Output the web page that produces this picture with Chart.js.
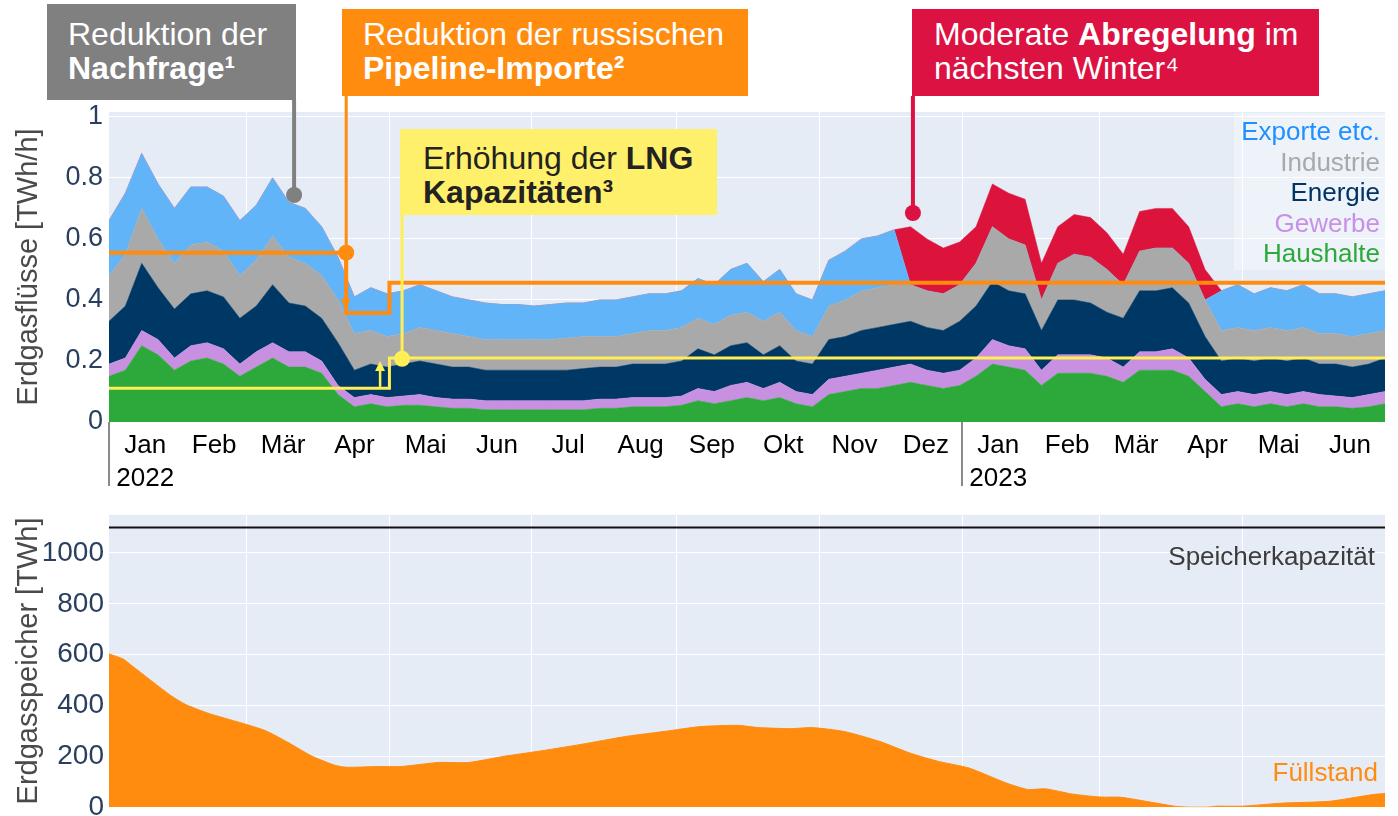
<!DOCTYPE html>
<html>
<head>
<meta charset="utf-8">
<script src="https://cdn.jsdelivr.net/npm/chart.js@4.4.1/dist/chart.umd.min.js"></script>
<style>
body { margin: 0; background: #fff; width: 1398px; height: 816px; overflow: hidden; position: relative; font-family: 'Liberation Sans', Arial, sans-serif; }
canvas { position: absolute; left: 0; }
#flow { top: 0; }
#store { top: 493px; }
.box { position: absolute; font-size: 32px; line-height: 34px; color: #fff; box-sizing: border-box; white-space: nowrap; }
.box b { font-weight: bold; }
#legend { position: absolute; left: 1234px; top: 113px; width: 151px; height: 157px; background: rgba(255,255,255,0.35); }
#legend div { text-align: right; font-size: 26px; line-height: 30.5px; padding-right: 5px; }
.note { position: absolute; font-size: 26px; line-height: 30px; text-align: right; }
</style>
</head>
<body>
<canvas id="flow" width="1398" height="500"></canvas>
<canvas id="store" width="1398" height="336"></canvas>

<div class="box" style="left:47px;top:4px;width:249px;height:96px;background:#808080;padding:13px 0 0 21px;">Reduktion der<br><b>Nachfrage¹</b></div>
<div class="box" style="left:342px;top:9px;width:406px;height:87px;background:#ff8c0f;padding:8px 0 0 21px;">Reduktion der russischen<br><b>Pipeline-Importe²</b></div>
<div class="box" style="left:400px;top:129px;width:317px;height:86px;background:#fff06b;color:#222;padding:12px 0 0 23px;">Erhöhung der <b>LNG</b><br><b>Kapazitäten³</b></div>
<div class="box" style="left:912px;top:9px;width:407px;height:87px;background:#dc1242;padding:8px 0 0 22px;">Moderate <b>Abregelung</b> im<br>nächsten Winter⁴</div>

<div id="legend" style="padding-top:3px;box-sizing:border-box;">
  <div style="color:#1e90ff">Exporte etc.</div>
  <div style="color:#a9a9a9">Industrie</div>
  <div style="color:#003366">Energie</div>
  <div style="color:#c890e6">Gewerbe</div>
  <div style="color:#2da83a">Haushalte</div>
</div>

<div class="note" style="right:23px;top:541px;color:#3c3c3c">Speicherkapazität</div>
<div class="note" style="right:20px;top:757px;color:#ff8c0f">Füllstand</div>

<script>
'use strict';

// x axis in days since 2022-01-01
var monthStarts = [0, 31, 59, 90, 120, 151, 181, 212, 243, 273, 304, 334, 365, 396, 424, 455, 485, 516, 546];
var monthLabels = [['Jan', '2022'], 'Feb', 'Mär', 'Apr', 'Mai', 'Jun', 'Jul', 'Aug', 'Sep', 'Okt', 'Nov', 'Dez',
    ['Jan', '2023'], 'Feb', 'Mär', 'Apr', 'Mai', 'Jun'];
var gridDays = [59, 120, 181, 243, 304, 365, 424, 485];
var yearStarts = [0, 365];

var flowTicks = [0, 0.2, 0.4, 0.6, 0.8, 1];
var flowTickLabels = ['0', '0.2', '0.4', '0.6', '0.8', '1'];
var storageTicks = [0, 200, 400, 600, 800, 1000];
var storageTickLabels = ['0', '200', '400', '600', '800', '1000'];

// weekly flows in TWh/h (layer thickness, bottom to top)
var haushalte = [.15, .17, .25, .22, .17, .20, .21, .19, .15, .18,
    .21, .18, .18, .16, .09, .05, .06, .05, .055, .055,
    .05, .045, .045, .04, .04, .04, .04, .04, .04, .04,
    .045, .045, .05, .05, .05, .055, .07, .06, .07, .08,
    .07, .08, .06, .05, .09, .10, .11, .11, .12, .13,
    .12, .11, .12, .15, .19, .18, .17, .12, .16, .16,
    .16, .15, .13, .17, .17, .17, .15, .10, .05, .06,
    .05, .06, .05, .06, .05, .05, .045, .05, .06];
var gewerbe = [.04, .04, .05, .05, .04, .05, .05, .05, .04, .05,
    .05, .05, .05, .04, .03, .03, .03, .03, .03, .035,
    .03, .03, .03, .03, .03, .03, .03, .03, .03, .03,
    .03, .03, .03, .03, .03, .03, .04, .04, .05, .05,
    .04, .05, .04, .04, .05, .05, .05, .06, .06, .06,
    .05, .05, .05, .06, .08, .07, .07, .05, .06, .06,
    .06, .06, .05, .06, .06, .07, .06, .04, .04, .04,
    .04, .04, .04, .04, .04, .035, .035, .04, .04];
var energie = [.14, .17, .22, .17, .16, .17, .17, .17, .15, .15,
    .19, .16, .15, .14, .14, .09, .10, .10, .105, .11,
    .11, .105, .105, .10, .10, .10, .10, .10, .10, .105,
    .105, .105, .11, .11, .11, .115, .13, .12, .13, .13,
    .11, .12, .10, .10, .13, .13, .14, .14, .14, .14,
    .14, .14, .16, .17, .19, .18, .18, .13, .18, .18,
    .17, .15, .16, .20, .20, .20, .18, .14, .11, .11,
    .11, .11, .11, .11, .10, .105, .10, .10, .11];
var industrie = [.15, .17, .18, .16, .15, .16, .16, .15, .14, .15,
    .16, .15, .14, .14, .14, .12, .11, .10, .10, .11,
    .11, .11, .10, .10, .10, .10, .10, .10, .105, .105,
    .10, .10, .10, .11, .11, .11, .10, .10, .10, .10,
    .11, .11, .10, .09, .11, .12, .13, .13, .13, .12,
    .12, .12, .12, .14, .18, .17, .16, .10, .12, .15,
    .15, .14, .11, .13, .14, .13, .13, .12, .10, .10,
    .10, .10, .10, .10, .10, .10, .10, .10, .09];
var exporte = [.18, .20, .18, .18, .18, .19, .18, .18, .18, .18,
    .19, .18, .18, .16, .14, .12, .14, .14, .14, .14,
    .13, .12, .12, .12, .115, .115, .11, .115, .115, .11,
    .12, .12, .12, .12, .12, .12, .13, .13, .15, .16,
    .13, .14, .12, .12, .15, .16, .17, .17, .18, 0,
    0, 0, 0, 0, 0, 0, 0, 0, 0, 0,
    0, 0, 0, 0, 0, 0, 0, 0, .13, .14,
    .12, .13, .13, .14, .13, .13, .13, .13, .13];
var abregelung = [0, 0, 0, 0, 0, 0, 0, 0, 0, 0,
    0, 0, 0, 0, 0, 0, 0, 0, 0, 0,
    0, 0, 0, 0, 0, 0, 0, 0, 0, 0,
    0, 0, 0, 0, 0, 0, 0, 0, 0, 0,
    0, 0, 0, 0, 0, 0, 0, 0, 0, .19,
    .17, .15, .14, .12, .14, .15, .15, .12, .12, .13,
    .13, .12, .10, .13, .13, .13, .12, .10, 0, 0,
    0, 0, 0, 0, 0, 0, 0, 0, 0];

// step lines (TWh/h)
var pipelineDays = [0, 101.5, 101.5, 120, 120, 546];
var pipelineCap = [.555, .555, .357, .357, .456, .456];
var lngDays = [0, 120, 120, 546];
var lngCap = [.111, .111, .21, .21];

// storage in TWh
var storageDays = [0, 6, 10, 26, 33, 43, 56, 67, 76, 87, 97, 102, 115, 125, 141, 154, 169, 183, 202, 221,
    240, 253, 269, 278, 292, 301, 315, 330, 343, 355, 368, 384, 393, 401, 412, 424, 433, 445, 456, 462,
    470, 474, 485, 502, 522, 541, 546];
var storageTWh = [603, 583, 555, 442, 403, 368, 333, 301, 258, 200, 164, 157, 160, 160, 176, 176, 200, 219, 247, 278,
    301, 317, 322, 313, 309, 313, 297, 258, 212, 180, 154, 95, 70, 72, 52, 40, 39, 21, 4, 0,
    0, 4, 4, 16, 23, 50, 54];
var capacityTWh = 1100;

var ORANGE = '#ff8c0f';
var YELLOW = '#ffee55';

var flowDays = [];
for (var d = 0; d <= 546; d += 7) flowDays.push(d);

var monthMid = [];
for (var m = 0; m < monthStarts.length - 1; m++) monthMid.push((monthStarts[m] + monthStarts[m + 1]) / 2);

function points(xs, ys) {
    return xs.map(function (x, i) { return { x: x, y: ys[i] }; });
}

var bgPlugin = {
    id: 'bg',
    beforeDraw: function (chart) {
        var a = chart.chartArea, ctx = chart.ctx;
        ctx.save();
        ctx.fillStyle = '#e5ecf6';
        ctx.fillRect(a.left, a.top, a.right - a.left, a.bottom - a.top);
        ctx.restore();
    }
};

function gridAxis() {
    return {
        type: 'linear', min: 0, max: 546, position: 'bottom',
        afterBuildTicks: function (s) { s.ticks = gridDays.map(function (v) { return { value: v }; }); },
        ticks: { display: false },
        grid: { color: '#ffffff', lineWidth: 1, drawTicks: false },
        border: { display: false },
        afterFit: function (s) { s.height = 0; }
    };
}

function yTitle(text) {
    return {
        display: true, text: text, color: '#4a4a4a',
        font: { family: 'Liberation Sans', size: 29 }, padding: { top: 12, bottom: 0 }
    };
}

function layer(label, values, color, fill) {
    return {
        label: label,
        data: points(flowDays, values),
        backgroundColor: color,
        borderColor: color,
        borderWidth: 0.5,
        pointRadius: 0,
        tension: 0,
        fill: fill,
        xAxisID: 'x',
        yAxisID: 'y'
    };
}

// callouts from the boxes down to their points
var callouts = [
    { day: 79.2, value: .744, fromY: 100, color: '#808080', width: 4 },
    { day: 101.5, value: .555, fromY: 96, color: ORANGE, width: 3 },
    { day: 125.4, value: .207, fromY: 215, color: YELLOW, width: 3 },
    { day: 344, value: .685, fromY: 96, color: '#dc1242', width: 4 }
];
var arrows = [
    { day: 101.2, from: .54, to: .37, color: ORANGE },
    { day: 116, from: .115, to: .2, color: YELLOW }
];

var flowPlugin = {
    id: 'flowExtras',
    afterDatasetsDraw: function (chart) {
        var ctx = chart.ctx, xs = chart.scales.x, ys = chart.scales.y2;
        ctx.save();
        arrows.forEach(function (a) {
            var px = xs.getPixelForValue(a.day);
            var p0 = ys.getPixelForValue(a.from), p1 = ys.getPixelForValue(a.to);
            var dir = p1 > p0 ? 1 : -1;
            ctx.strokeStyle = a.color;
            ctx.fillStyle = a.color;
            ctx.lineWidth = 2.5;
            ctx.beginPath();
            ctx.moveTo(px, p0);
            ctx.lineTo(px, p1 - dir * 8);
            ctx.stroke();
            ctx.beginPath();
            ctx.moveTo(px - 5, p1 - dir * 10);
            ctx.lineTo(px + 5, p1 - dir * 10);
            ctx.lineTo(px, p1);
            ctx.closePath();
            ctx.fill();
        });
        callouts.forEach(function (c) {
            var px = xs.getPixelForValue(c.day), py = ys.getPixelForValue(c.value);
            ctx.strokeStyle = c.color;
            ctx.lineWidth = c.width;
            ctx.beginPath();
            ctx.moveTo(px, c.fromY);
            ctx.lineTo(px, py);
            ctx.stroke();
            ctx.fillStyle = c.color;
            ctx.beginPath();
            ctx.arc(px, py, 8, 0, Math.PI * 2);
            ctx.fill();
        });
        // year dividers below the axis
        ctx.strokeStyle = '#8a8a8a';
        ctx.lineWidth = 2;
        yearStarts.forEach(function (y) {
            var px = xs.getPixelForValue(y);
            ctx.beginPath();
            ctx.moveTo(px, chart.chartArea.bottom);
            ctx.lineTo(px, chart.chartArea.bottom + 64);
            ctx.stroke();
        });
        ctx.restore();
    }
};

new Chart(document.getElementById('flow'), {
    type: 'line',
    data: {
        datasets: [
            layer('Haushalte', haushalte, '#2da83a', 'origin'),
            layer('Gewerbe', gewerbe, '#c890e0', '-1'),
            layer('Energie', energie, '#003865', '-1'),
            layer('Industrie', industrie, '#a9a9a9', '-1'),
            layer('Exporte etc.', exporte, '#61b4f8', '-1'),
            layer('Abregelung', abregelung, '#dc143c', '-1'),
            {
                label: 'Pipeline', data: points(pipelineDays, pipelineCap), borderColor: ORANGE, borderWidth: 4,
                pointRadius: 0, fill: false, xAxisID: 'x', yAxisID: 'y2', order: -2
            },
            {
                label: 'LNG', data: points(lngDays, lngCap), borderColor: YELLOW, borderWidth: 3,
                pointRadius: 0, fill: false, xAxisID: 'x', yAxisID: 'y2', order: -1
            }
        ]
    },
    options: {
        responsive: false,
        animation: false,
        devicePixelRatio: 1,
        layout: { padding: { top: 112, right: 13, left: 0, bottom: 0 } },
        plugins: { legend: { display: false }, tooltip: { enabled: false } },
        scales: {
            x: gridAxis(),
            xl: {
                type: 'linear', min: 0, max: 546, position: 'bottom',
                afterBuildTicks: function (s) { s.ticks = monthMid.map(function (v) { return { value: v }; }); },
                ticks: {
                    autoSkip: false, maxRotation: 0, minRotation: 0, padding: 7, color: '#000',
                    font: { family: 'Liberation Sans', size: 26, lineHeight: 1.28 },
                    callback: function (v, i) { return monthLabels[i]; }
                },
                grid: { display: false, drawTicks: false },
                border: { display: false },
                afterFit: function (s) { s.height = 78; }
            },
            y: {
                stacked: true, min: 0, max: 1.016,
                afterBuildTicks: function (s) { s.ticks = flowTicks.map(function (v) { return { value: v }; }); },
                ticks: {
                    padding: 6, color: '#2a3f5f', font: { family: 'Liberation Sans', size: 27 },
                    callback: function (v, i) { return flowTickLabels[i]; }
                },
                grid: { color: '#ffffff', drawTicks: false },
                border: { display: false },
                title: yTitle('Erdgasflüsse [TWh/h]'),
                afterFit: function (s) { s.width = 109; }
            },
            y2: { display: false, min: 0, max: 1.016 }
        }
    },
    plugins: [bgPlugin, flowPlugin]
});

new Chart(document.getElementById('store'), {
    type: 'line',
    data: {
        datasets: [
            {
                label: 'Speicherkapazität',
                data: points([0, 546], [capacityTWh, capacityTWh]),
                borderColor: '#111', borderWidth: 2, pointRadius: 0, fill: false
            },
            {
                label: 'Füllstand',
                data: points(storageDays, storageTWh),
                borderColor: ORANGE, backgroundColor: ORANGE, borderWidth: 1,
                pointRadius: 0, tension: 0.2, fill: 'origin'
            }
        ]
    },
    options: {
        responsive: false,
        animation: false,
        devicePixelRatio: 1,
        layout: { padding: { top: 13, right: 13, left: 0, bottom: 10 } },
        plugins: { legend: { display: false }, tooltip: { enabled: false } },
        scales: {
            x: gridAxis(),
            y: {
                min: 0, max: 1150,
                afterBuildTicks: function (s) { s.ticks = storageTicks.map(function (v) { return { value: v }; }); },
                ticks: {
                    padding: 5, color: '#2a3f5f',
                    font: { family: "'Liberation Sans Narrow', 'Arial Narrow', 'Liberation Sans'", size: 28 },
                    callback: function (v, i) { return storageTickLabels[i]; }
                },
                grid: { color: '#ffffff', drawTicks: false },
                border: { display: false },
                title: yTitle('Erdgasspeicher [TWh]'),
                afterFit: function (s) { s.width = 109; }
            }
        }
    },
    plugins: [bgPlugin]
});
</script>
</body>
</html>
